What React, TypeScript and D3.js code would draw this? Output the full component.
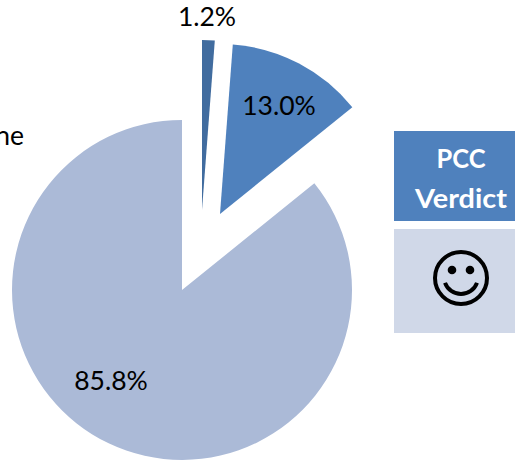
import React from "react";
import * as d3 from "d3";

const categories = ["Small", "Medium", "None"];
const values = [1.2, 13.0, 85.8];
const valueLabels = ["1.2%", "13.0%", "85.8%"];
const sliceColors = ["#416C9F", "#4F81BD", "#ABBAD7"];
const explodeX = [20, 38, 0];
const explodeY = [-80, -76, 0];
const labelX = [207, 279, 111];
const labelY = [18, 107, 382];
const verdictLines = ["PCC", "Verdict"];
const verdictWidths = [49, 92];

const W = 515;
const H = 462;
const cx = 182;
const cy = 290;
const R = 170;
const FONT = "Lato, 'Open Sans', sans-serif";

export default function App() {
  const pie = d3.pie<number>().sort(null).value((d) => d);
  const arc = d3.arc<d3.PieArcDatum<number>>().innerRadius(0).outerRadius(R);
  const arcs = pie(values);
  const smile = d3.arc()({ innerRadius: 17, outerRadius: 17, startAngle: 1.92, endAngle: Math.PI * 2 - 1.92 }) as string;
  return (
    <svg width={W} height={H} viewBox={`0 0 ${W} ${H}`} style={{ position: "absolute", left: 0, top: 0, background: "#fff" }}>
      <g transform={`translate(${cx},${cy})`}>
        {arcs.map((a, i) => (
          <path key={categories[i]} d={arc(a) as string} fill={sliceColors[i]} transform={`translate(${explodeX[i]},${explodeY[i]})`} />
        ))}
      </g>
      {valueLabels.map((t, i) => (
        <text key={t} x={labelX[i]} y={labelY[i] + 8} textAnchor="middle" fontFamily={FONT} fontSize={26.5} fill="#000">{t}</text>
      ))}
      <text x={24} y={145} textAnchor="end" fontFamily={FONT} fontSize={26.5} fill="#000">{categories[2]}</text>
      <rect x={394} y={131} width={121} height={90} fill="#4F81BD" />
      <rect x={394} y={229} width={121} height={104} fill="#D0D8E8" />
      {verdictLines.map((t, i) => (
        <text key={t} x={461} y={168 + i * 40} textAnchor="middle" fontFamily={FONT} fontWeight={700} fontSize={27} fill="#fff" textLength={verdictWidths[i]} lengthAdjust="spacingAndGlyphs">{t}</text>
      ))}
      <g transform="translate(461,278)" fill="none" stroke="#000" strokeWidth={4}>
        <circle r={26} />
        <path d={smile} transform="translate(0,-1)" strokeLinecap="round" />
        <circle cx={-9} cy={-8} r={4.3} fill="#000" stroke="none" />
        <circle cx={9} cy={-8} r={4.3} fill="#000" stroke="none" />
      </g>
    </svg>
  );
}
